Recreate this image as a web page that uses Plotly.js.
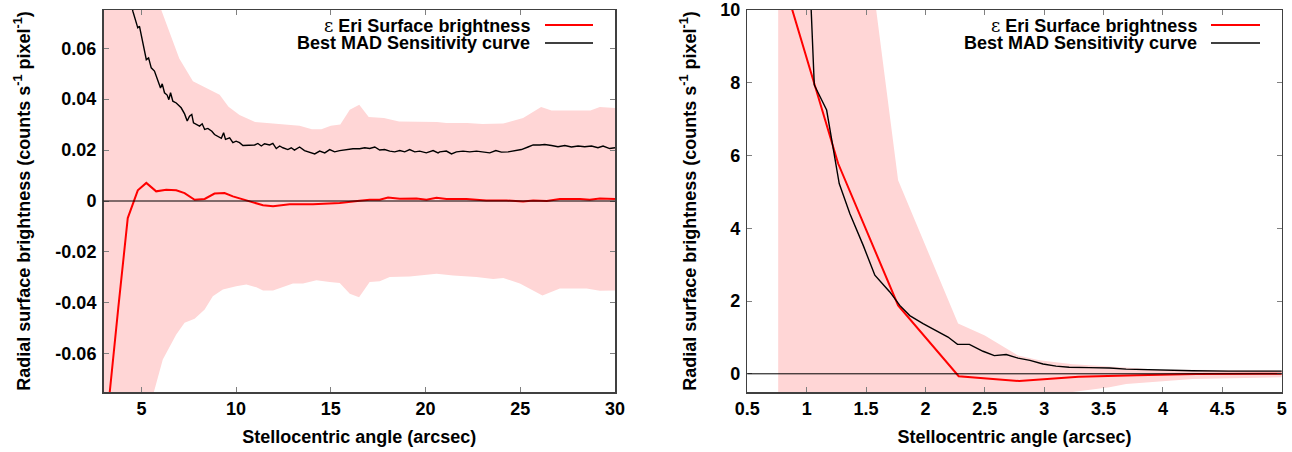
<!DOCTYPE html>
<html>
<head>
<meta charset="utf-8">
<script src="https://cdn.plot.ly/plotly-3.0.1.min.js"></script>
<style>
  html, body { margin: 0; padding: 0; background: #fff; }
  #chart { width: 1292px; height: 452px; }
</style>
</head>
<body>
<div id="chart"></div>
<script>
// Radial surface brightness profile of eps Eri (red) with the best MAD
// sensitivity curve (black) and the noise envelope (pink band).
// The same series are shown twice: a wide view (3-30") and a close-in view (0.5-5").

// Surface brightness profile (arcsec, counts s^-1 pixel^-1)
const profileX = [0.76, 1.265, 1.77, 2.28, 2.79, 3.29, 3.78, 4.28, 4.81, 5.26, 5.78, 6.31, 6.84, 7.28,
  7.81, 8.34, 8.86, 9.39, 9.83, 10.54, 11.42, 11.95, 12.83, 14.06, 15.47, 16.52, 17.05, 17.58, 18.02,
  18.64, 19.52, 20.05, 20.58, 21.1, 22.16, 23.2, 24.27, 25.15, 25.68, 26.4, 27.09, 28.15, 28.67, 29.2, 30];
const profileY = [11.3, 5.78, 1.88, -0.065, -0.2, -0.078, -0.042, -0.0067, 0.0042, 0.0071, 0.0038, 0.0044,
  0.0042, 0.0031, 0.0005, 0.0008, 0.0029, 0.0031, 0.0018, 0.0002, -0.0017, -0.0021, -0.0013, -0.0013,
  -0.0008, 0.0001, 0.0005, 0.0005, 0.0014, 0.0009, 0.001, 0.0005, 0.0013, 0.0008, 0.0008, 0.0002, 0.0002,
  -0.0002, 0.0002, 0, 0.0008, 0.0008, 0.0005, 0.001, 0.0008];

// Best MAD sensitivity curve
const madX = [1.0, 1.064, 1.168, 1.218, 1.274, 1.364, 1.476, 1.574, 1.70, 1.784, 1.868, 1.98, 2.09, 2.19,
  2.27, 2.37, 2.485, 2.58, 2.68, 2.78, 2.88, 2.99, 3.1, 3.21, 3.38, 3.55, 3.69, 3.97, 4.25,
  4.55, 4.81, 4.9, 5.08, 5.26, 5.38, 5.52, 5.69, 5.87, 6.01, 6.1, 6.22, 6.36, 6.45, 6.54, 6.66, 6.84,
  7.1, 7.28, 7.42, 7.54, 7.66, 7.75, 7.9, 8.07, 8.21, 8.34, 8.51, 8.72, 8.86, 9.04, 9.22, 9.34, 9.44,
  9.66, 9.83, 10.0, 10.18, 10.36, 10.62, 10.98, 11.15, 11.33, 11.5, 11.77, 11.94, 12.12, 12.3, 12.47,
  12.73, 12.91, 13.08, 13.35, 13.61, 13.88, 14.15, 14.41, 14.68, 14.94, 15.2, 15.47, 15.82, 16.17,
  16.52, 16.79, 17.05, 17.32, 17.58, 17.84, 18.11, 18.37, 18.64, 18.9, 19.16, 19.43, 19.69, 20.04,
  20.4, 20.66, 20.75, 21.1, 21.37, 21.63, 21.98, 22.33, 22.69, 23.04, 23.39, 23.71, 24.0, 24.36,
  24.71, 25.06, 25.41, 25.68, 26.03, 26.29, 26.65, 26.99, 27.35, 27.7, 28.05, 28.4, 28.76, 29.1,
  29.37, 29.72, 30];
const madY = [13, 7.94, 7.25, 6.33, 5.23, 4.4, 3.53, 2.71, 2.25, 1.88, 1.6, 1.38, 1.19, 1.01,
  0.81, 0.81, 0.62, 0.5, 0.53, 0.43, 0.37, 0.27, 0.21, 0.18, 0.17, 0.16, 0.13, 0.1, 0.085,
  0.0745, 0.068, 0.0686, 0.0627, 0.0555, 0.0562, 0.0523, 0.051, 0.0477, 0.0444, 0.046, 0.0425, 0.0416,
  0.0398, 0.0425, 0.0392, 0.0385, 0.0366, 0.0342, 0.0314, 0.0333, 0.034, 0.0307, 0.03, 0.0294, 0.0303,
  0.0281, 0.0285, 0.0274, 0.0261, 0.0255, 0.0246, 0.0268, 0.0242, 0.0248, 0.0229, 0.0235, 0.0229,
  0.0218, 0.0218, 0.022, 0.0226, 0.0216, 0.0225, 0.022, 0.0226, 0.0206, 0.0216, 0.0209, 0.0202, 0.0209,
  0.02, 0.0212, 0.0198, 0.0193, 0.0185, 0.0196, 0.0189, 0.0202, 0.0193, 0.0198, 0.0202, 0.0205, 0.0205,
  0.0209, 0.0206, 0.0212, 0.02, 0.0202, 0.0196, 0.0193, 0.0198, 0.0193, 0.0202, 0.0193, 0.0196, 0.0189,
  0.0198, 0.0189, 0.0193, 0.0196, 0.0185, 0.0193, 0.0196, 0.0193, 0.0196, 0.0192, 0.0189, 0.0198,
  0.0192, 0.0193, 0.0198, 0.0202, 0.0212, 0.022, 0.022, 0.0222, 0.0218, 0.0213, 0.0218, 0.0212, 0.0216,
  0.0213, 0.0216, 0.0209, 0.0216, 0.0206, 0.0209];

// Noise envelope: upper and lower bounds
const bandUpperX = [0.76, 1.27, 1.77, 2.275, 2.5, 2.78, 2.96, 3.24, 3.55, 3.97, 5.0, 6.05, 6.5, 7.0, 7.72,
  8.43, 9.13, 9.6, 10.18, 11.0, 11.6, 12.5, 13.35, 14.0, 14.5, 15.0, 15.5, 16.0, 16.5, 17.0, 17.8, 18.6,
  19.5, 20.6, 21.1, 22.2, 23.0, 24.1, 25.15, 25.7, 26.1, 26.65, 27.4, 28.7, 29.2, 30];
const bandUpperY = [40, 18, 5.32, 1.38, 1.05, 0.5, 0.37, 0.26, 0.2, 0.115, 0.093, 0.075, 0.066, 0.056, 0.047,
  0.0443, 0.0417, 0.037, 0.0338, 0.031, 0.0306, 0.030, 0.0295, 0.0282, 0.0282, 0.0295, 0.030, 0.0358,
  0.0378, 0.033, 0.0326, 0.0312, 0.0312, 0.031, 0.0306, 0.0306, 0.0302, 0.0304, 0.0326, 0.0351, 0.0369,
  0.0355, 0.0355, 0.0355, 0.0369, 0.0365];
const bandLowerX = [0.76, 1.27, 1.77, 2.275, 2.78, 3.24, 3.55, 3.69, 4.25, 5.0, 5.66, 6.13, 6.31, 6.84, 7.28,
  7.81, 8.34, 8.77, 9.3, 10.0, 10.54, 11.07, 11.42, 11.95, 13.0, 13.53, 14.24, 14.94, 15.47, 16.0, 16.49,
  17.05, 17.58, 18.11, 19.16, 19.7, 20.58, 21.46, 22.69, 23.57, 24.1, 24.98, 25.68, 26.17, 27.09, 28.5,
  29.2, 30];
const bandLowerY = [-40, -18, -5.3, -1.4, -0.9, -0.5, -0.37, -0.28, -0.14, -0.093, -0.075, -0.0622, -0.0596,
  -0.0524, -0.0478, -0.0462, -0.0426, -0.0374, -0.0348, -0.0335, -0.0328, -0.0339, -0.0351, -0.0351,
  -0.0324, -0.0324, -0.0311, -0.0318, -0.0322, -0.0364, -0.0378, -0.0318, -0.0315, -0.0298, -0.0296,
  -0.0293, -0.0286, -0.0293, -0.0298, -0.0306, -0.0302, -0.0324, -0.0351, -0.0371, -0.0344, -0.0344,
  -0.0352, -0.0351];

// Axis tick labels
const wideXTicks = [5, 10, 15, 20, 25, 30];
const wideYTickVals = [-0.06, -0.04, -0.02, 0, 0.02, 0.04, 0.06];
const wideYTickText = ['-0.06', '-0.04', '-0.02', '0', '0.02', '0.04', '0.06'];
const closeXTickVals = [0.5, 1, 1.5, 2, 2.5, 3, 3.5, 4, 4.5, 5];
const closeXTickText = ['0.5', '1', '1.5', '2', '2.5', '3', '3.5', '4', '4.5', '5'];
const closeYTicks = [0, 2, 4, 6, 8, 10];

const seriesNames = [
  '<span style="font-family:\'DejaVu Serif\';font-weight:normal">ε</span> Eri Surface brightness',
  'Best MAD Sensitivity curve'
];

const W = 1292, H = 452;
const FONT = 'Liberation Sans, Arial, Helvetica, sans-serif';
const BAND = 'rgb(255,214,214)';

// polygon outline of the envelope: upper edge forward, lower edge back
const bandX = bandUpperX.concat(bandLowerX.slice().reverse());
const bandY = bandUpperY.concat(bandLowerY.slice().reverse());

function panelTraces(xa, ya) {
  return [
    { x: bandX, y: bandY, xaxis: xa, yaxis: ya, type: 'scatter', mode: 'lines',
      fill: 'toself', fillcolor: BAND, line: { width: 0 }, hoverinfo: 'skip', showlegend: false },
    { x: profileX, y: profileY, xaxis: xa, yaxis: ya, type: 'scatter', mode: 'lines',
      line: { color: '#ff0000', width: 2 }, name: seriesNames[0], showlegend: false },
    { x: madX, y: madY, xaxis: xa, yaxis: ya, type: 'scatter', mode: 'lines',
      line: { color: '#000000', width: 1.4 }, name: seriesNames[1], showlegend: false }
  ];
}

const data = panelTraces('x', 'y').concat(panelTraces('x2', 'y2'));

const yDom = [(H - 392) / H, (H - 10) / H];
const tickFont = { family: FONT, size: 18, weight: 'bold', color: '#000' };

function axisCommon() {
  return {
    showgrid: false, zeroline: false, showline: true, linecolor: '#404040', linewidth: 1.5,
    mirror: 'ticks', ticks: 'inside', ticklen: 5, tickwidth: 1, tickcolor: '#808080',
    tickfont: tickFont, layer: 'above traces', fixedrange: true
  };
}

const yTitleText = 'Radial surface brightness (counts s<sup>-1</sup> pixel<sup>-1</sup>)';
const xTitleText = 'Stellocentric angle (arcsec)';
const titleFont = { family: FONT, size: 18, weight: 'bold', color: '#000' };

const layout = {
  width: W, height: H,
  margin: { l: 0, r: 0, t: 0, b: 0 },
  paper_bgcolor: '#fff', plot_bgcolor: '#fff',
  showlegend: false,
  xaxis: Object.assign(axisCommon(), {
    domain: [103.5 / W, 615 / W], range: [3, 30], anchor: 'y',
    tickmode: 'array', tickvals: wideXTicks, ticktext: wideXTicks.map(String),
    title: { text: xTitleText, font: titleFont, standoff: 12 }
  }),
  yaxis: Object.assign(axisCommon(), {
    domain: yDom, range: [-0.075, 0.075], anchor: 'x', ticklabelstandoff: 2,
    tickmode: 'array', tickvals: wideYTickVals, ticktext: wideYTickText,
    title: { text: yTitleText, font: titleFont, standoff: 20 }
  }),
  xaxis2: Object.assign(axisCommon(), {
    domain: [747.3 / W, 1281.7 / W], range: [0.5, 5], anchor: 'y2',
    tickmode: 'array', tickvals: closeXTickVals, ticktext: closeXTickText,
    title: { text: xTitleText, font: titleFont, standoff: 12 }
  }),
  yaxis2: Object.assign(axisCommon(), {
    domain: yDom, range: [-0.5, 10], anchor: 'x2', ticklabelstandoff: 2,
    tickmode: 'array', tickvals: closeYTicks, ticktext: closeYTicks.map(String),
    title: { text: yTitleText, font: titleFont, standoff: 19 }
  }),
  shapes: [],
  annotations: []
};

// zero reference lines drawn over the envelope
[['x', 'y'], ['x2', 'y2']].forEach(([xa, ya]) => {
  layout.shapes.push({ type: 'line', xref: xa + ' domain', yref: ya, x0: 0, x1: 1, y0: 0, y1: 0,
    line: { color: '#000', width: 1 }, layer: 'above' });
});

// key: right-aligned text followed by a line sample
const keys = [
  { textRight: 532, lineX0: 545, lineX1: 593 },
  { textRight: 1199, lineX0: 1211, lineX1: 1260 }
];
const keyRows = [25, 43];
const keyColors = ['#ff0000', '#000000'];
const keyWidths = [2, 1.4];
keys.forEach(k => {
  seriesNames.forEach((name, i) => {
    const yp = 1 - keyRows[i] / H;
    layout.annotations.push({ xref: 'paper', yref: 'paper', x: k.textRight / W, y: yp,
      xanchor: 'right', yanchor: 'middle', text: name, showarrow: false, font: titleFont });
    layout.shapes.push({ type: 'line', xref: 'paper', yref: 'paper', x0: k.lineX0 / W, x1: k.lineX1 / W,
      y0: yp, y1: yp, line: { color: keyColors[i], width: keyWidths[i] } });
  });
});

Plotly.newPlot('chart', data, layout, { displayModeBar: false, staticPlot: true });
</script>
</body>
</html>
